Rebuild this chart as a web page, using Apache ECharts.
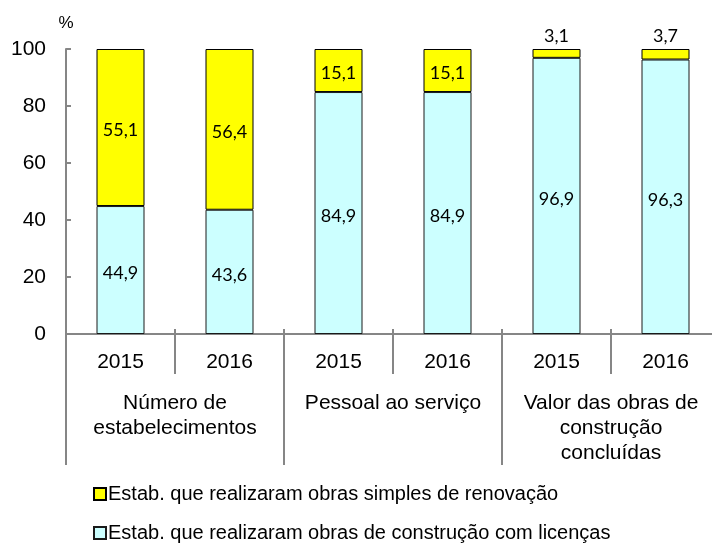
<!DOCTYPE html>
<html>
<head>
<meta charset="utf-8">
<script src="https://cdn.jsdelivr.net/npm/echarts@6/dist/echarts.min.js"></script>
<style>
  html, body { margin: 0; padding: 0; background: #fff; }
  #chart { width: 712px; height: 543px; }
</style>
</head>
<body>
<div id="chart"></div>
<script>
// dados
const years = ['2015', '2016', '2015', '2016', '2015', '2016']
const groups = ['Número de\nestabelecimentos', 'Pessoal ao serviço', 'Valor das obras de\nconstrução\nconcluídas']
const licencas = [44.9, 43.6, 84.9, 84.9, 96.9, 96.3]
const renovacao = [55.1, 56.4, 15.1, 15.1, 3.1, 3.7]
const yTicks = [0, 20, 40, 60, 80, 100]

const nameRenov = 'Estab. que realizaram obras simples de renovação'
const nameLic = 'Estab. que realizaram obras de construção com licenças'

const axisGray = '#868686'
const fmt = v => v.toFixed(1).replace('.', ',')

const chart = echarts.init(document.getElementById('chart'))

let option = {
  animation: false,
  grid: {
    left: 66,
    top: 49,
    width: 654,
    height: 285,
    outerBoundsMode: 'none'
  },
  legend: {
    orient: 'vertical',
    left: 88,
    top: 479,
    height: 120,
    padding: 5,
    itemWidth: 12,
    itemHeight: 12,
    itemGap: 19,
    icon: 'rect',
    data: [nameRenov, nameLic],
    textStyle: { fontFamily: 'Liberation Sans', fontSize: 20, color: '#000', padding: [0, 0, 0, -3] }
  },
  xAxis: [
    {
      type: 'category',
      data: years,
      position: 'bottom',
      axisLine: { show: true, lineStyle: { color: axisGray, width: 2 } },
      axisTick: { show: true, interval: 0, length: 40, lineStyle: { color: axisGray, width: 2 } },
      axisLabel: { interval: 0, margin: 18, fontFamily: 'Liberation Sans', fontSize: 21, color: '#000' }
    },
    {
      type: 'category',
      data: years,
      position: 'bottom',
      axisLine: { show: false },
      axisTick: { show: true, inside: true, interval: 0, length: 5, lineStyle: { color: axisGray, width: 2 } },
      axisLabel: { show: false }
    },
    {
      type: 'category',
      data: groups,
      position: 'bottom',
      axisLine: { show: false },
      axisTick: { show: true, interval: 0, length: 131, lineStyle: { color: axisGray, width: 2 } },
      axisLabel: { interval: 0, margin: 57, fontFamily: 'Liberation Sans', fontSize: 21, lineHeight: 25, color: '#000' }
    }
  ],
  yAxis: {
    type: 'value',
    min: yTicks[0],
    max: yTicks[yTicks.length - 1],
    interval: 20,
    name: '%',
    nameLocation: 'end',
    nameGap: 17,
    nameTextStyle: { fontFamily: 'Liberation Sans', fontSize: 17, color: '#000', align: 'center' },
    splitLine: { show: false },
    axisLine: { show: true, lineStyle: { color: axisGray, width: 2 } },
    axisTick: { show: true, inside: true, length: 5, lineStyle: { color: axisGray, width: 2 } },
    axisLabel: { margin: 20, fontFamily: 'Liberation Sans', fontSize: 21, color: '#000' }
  },
  series: [
    {
      name: nameLic,
      type: 'bar',
      stack: 'total',
      barWidth: 48,
      itemStyle: { color: '#CCFFFF', borderColor: '#1a1a1a', borderWidth: 1 },
      label: {
        show: true,
        position: 'inside',
        offset: [0, 3],
        formatter: p => fmt(p.value),
        fontFamily: 'Lato',
        fontSize: 18,
        color: '#000'
      },
      data: licencas
    },
    {
      name: nameRenov,
      type: 'bar',
      stack: 'total',
      barWidth: 48,
      itemStyle: { color: '#FFFF00', borderColor: '#000', borderWidth: 1 },
      label: {
        show: true,
        position: 'inside',
        offset: [0, 3],
        formatter: p => fmt(p.value),
        fontFamily: 'Lato',
        fontSize: 18,
        color: '#000'
      },
      data: renovacao.map(v => v < 5 ? { value: v, label: { position: 'top', distance: 4, offset: [0, 0] } } : v)
    }
  ]
}
chart.setOption(option)
</script>
</body>
</html>
